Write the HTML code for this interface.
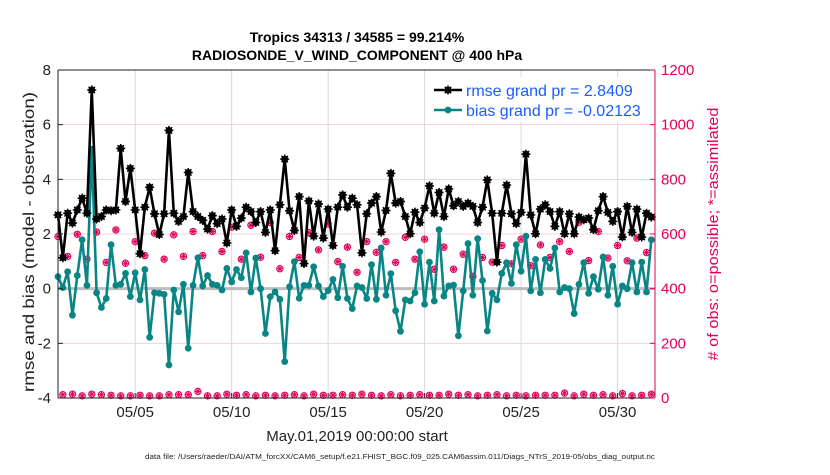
<!DOCTYPE html>
<html><head><meta charset="utf-8"><style>
body{margin:0;background:#fff;width:830px;height:470px;overflow:hidden}
svg{font-family:"Liberation Sans",sans-serif}
</style></head><body>
<svg id="chart" width="830" height="470"></svg>
<script>
const rmse=[2.70,1.13,2.76,2.40,2.88,3.31,2.76,7.27,2.55,2.64,2.88,2.85,2.88,5.13,3.19,4.40,2.88,1.28,2.98,3.71,2.74,1.98,2.74,5.79,2.76,2.46,2.64,4.25,2.82,2.64,2.50,2.18,
2.67,2.38,2.55,1.67,2.88,2.28,2.58,2.98,2.82,2.42,2.82,2.06,2.88,1.39,3.07,4.74,2.85,2.13,3.37,0.92,3.21,1.92,3.10,1.85,2.91,1.58,2.98,3.43,2.98,3.31,3.07,
1.31,2.74,3.13,3.37,2.07,2.86,4.22,3.13,3.19,2.64,2.01,2.80,2.42,2.95,3.76,2.76,3.52,2.64,3.65,3.03,3.19,3.01,3.13,3.01,2.42,2.98,3.98,2.76,0.97,2.76,3.79,
2.74,2.38,2.79,4.92,2.70,2.01,2.91,3.07,2.82,2.28,2.82,2.01,2.74,2.01,2.62,2.52,2.58,2.16,2.85,3.37,2.79,2.46,2.82,1.89,3.01,2.06,2.91,1.89,2.76,2.62];
const bias=[0.44,0.04,0.62,-0.97,0.48,1.79,0.12,5.10,-0.15,-0.69,-0.36,1.61,0.12,0.16,0.56,-0.29,0.58,-0.41,0.70,-1.78,-0.15,-0.17,-0.21,-2.79,-0.05,-0.85,0.16,-2.18,0.12,1.13,0.10,0.48,
0.16,0.12,-0.05,0.74,0.25,0.70,0.40,1.31,-0.12,1.12,0.00,-1.64,-0.29,-0.12,-0.39,-2.67,0.07,0.99,-0.35,0.12,0.12,0.80,0.10,-0.29,-0.07,0.34,-0.33,0.82,-0.36,-0.73,0.10,
0.04,-0.36,0.88,-0.39,1.49,-0.24,0.55,-0.81,-1.56,-0.41,-0.45,-0.15,1.35,-0.57,0.97,-0.45,2.16,-0.27,0.10,0.13,-1.72,-0.08,1.65,-0.24,1.83,0.30,-1.55,-0.17,-0.41,0.56,0.95,
0.19,1.61,0.64,1.92,-0.08,1.07,-0.15,1.07,0.74,1.49,-0.12,0.04,0.00,-0.91,0.16,0.95,-0.17,0.44,-0.02,1.16,-0.24,0.82,-0.57,0.10,0.00,0.95,-0.12,0.97,-0.12,1.79];
const obsHigh=[591,518,599,508,607,496,615,493,572,521,603,508,597,518,609,521,609,536,625,508,632,515,642,473,591,514,605,542,637,499,552,460,572,533,572,496,588,508,581,471,552,471,526,445,514,497,558,491,581,484,560,514,572,536,643,503,609,512,558,502,585,532];
const obsLow=[12,14,8,14,12,10,8,8,10,8,8,12,12,12,24,8,8,14,10,12,8,10,8,10,12,8,14,10,10,12,10,14,10,8,12,8,10,12,10,10,14,10,12,8,10,12,8,10,8,10,10,10,18,8,14,10,12,8,16,8,10,14];
const yTicks=[8,6,4,2,0,-2,-4];
const rTicks=[0,200,400,600,800,1000,1200];
const xTickDays=[4,9,14,19,24,29];
const xTickLabels=["05/05","05/10","05/15","05/20","05/25","05/30"];

const NS="http://www.w3.org/2000/svg";
const svg=document.getElementById('chart');
const L=58,R=655,T=70,B=398;
const X=d=>L+(d/30.94)*(R-L);
const Y=v=>T+(8-v)/12*(B-T);
const YR=c=>B-c/1200*(B-T);
function el(tag,a,parent){const e=document.createElementNS(NS,tag);for(const k in a)e.setAttribute(k,a[k]);(parent||svg).appendChild(e);return e;}
function txt(s,a){const e=el('text',a);e.textContent=s;return e;}
const PINK="#e0005a";

let e;
e=el('rect',{x:L,y:T,width:R-L,height:B-T,fill:'#fff'});

yTicks.forEach(v=>{e=el('line',{x1:L,x2:R,y1:Y(v),y2:Y(v),stroke:'#f5d0dd','stroke-width':1});
});
xTickDays.forEach(d=>{e=el('line',{x1:X(d),x2:X(d),y1:T,y2:B,stroke:'#d8d8d8','stroke-width':1});
});
e=el('line',{x1:L,x2:R,y1:Y(0),y2:Y(0),stroke:'#bdbdbd','stroke-width':3});


function star(g,x,y,r,col,w){for(let k=0;k<4;k++){const a=k*Math.PI/4;
el('line',{x1:x-r*Math.cos(a),y1:y-r*Math.sin(a),x2:x+r*Math.cos(a),y2:y+r*Math.sin(a),stroke:col,'stroke-width':w},g);}}
const gObs=el('g',{});
obsHigh.forEach((c,k)=>{const x=X(k*0.5),y=YR(c);
el('circle',{cx:x,cy:y,r:3.2,fill:'none',stroke:PINK,'stroke-width':1},gObs);star(gObs,x,y,3.2,PINK,1);});
obsLow.forEach((c,k)=>{const x=X(k*0.5+0.25),y=YR(c);
el('circle',{cx:x,cy:y,r:3.2,fill:'none',stroke:PINK,'stroke-width':1},gObs);star(gObs,x,y,3.2,PINK,1);});

function series(data,col,name,st){const g=el('g',{});
el('polyline',{points:data.map((v,i)=>X(i*0.25)+','+Y(v)).join(' '),fill:'none',stroke:col,'stroke-width':2.6,'stroke-linejoin':'round'},g);
data.forEach((v,i)=>{el('circle',{cx:X(i*0.25),cy:Y(v),r:3.4,fill:col},g);if(st)star(g,X(i*0.25),Y(v),4.5,col,1.5);});}
series(bias,'#0a8585','bias-series',false);
series(rmse,'#000','rmse-series',true);

e=el('line',{x1:L,x2:L,y1:T,y2:B,stroke:'#222','stroke-width':1});
e=el('line',{x1:L,x2:R,y1:T,y2:T,stroke:'#222','stroke-width':1});
e=el('line',{x1:L,x2:R,y1:B,y2:B,stroke:'#222','stroke-width':1});
e=el('line',{x1:R,x2:R,y1:T,y2:B,stroke:PINK,'stroke-width':1});
yTicks.forEach(v=>{el('line',{x1:L,x2:L+5,y1:Y(v),y2:Y(v),stroke:'#222'});
e=txt(String(v),{x:L-7,y:Y(v)+5,'text-anchor':'end','font-size':15,fill:'#222'});
});
rTicks.forEach(c=>{el('line',{x1:R-5,x2:R,y1:YR(c),y2:YR(c),stroke:PINK});
e=txt(String(c),{x:R+6,y:YR(c)+5,'font-size':15,fill:PINK});
});
xTickDays.forEach((d,k)=>{el('line',{x1:X(d),x2:X(d),y1:B-5,y2:B,stroke:'#222'});
e=txt(xTickLabels[k],{x:X(d),y:B+19,'text-anchor':'middle','font-size':15,fill:'#222'});
});

e=txt('Tropics 34313 / 34585 = 99.214%',{x:357,y:42,'text-anchor':'middle','font-size':14,'font-weight':'bold'});

e=txt('RADIOSONDE_V_WIND_COMPONENT @ 400 hPa',{x:357,y:60,'text-anchor':'middle','font-size':14,'font-weight':'bold'});

e=txt('rmse and bias (model - observation)',{x:0,y:0,'text-anchor':'middle','font-size':16,fill:'#222',textLength:300,lengthAdjust:'spacingAndGlyphs',transform:'translate(34,242) rotate(-90)'});

e=txt('# of obs: o=possible; *=assimilated',{x:0,y:0,'text-anchor':'middle','font-size':15,fill:PINK,textLength:253,lengthAdjust:'spacingAndGlyphs',transform:'translate(718,234) rotate(-90)'});

e=txt('May.01,2019 00:00:00 start',{x:357,y:441,'text-anchor':'middle','font-size':15,fill:'#222'});

e=txt('data file: /Users/raeder/DAI/ATM_forcXX/CAM6_setup/f.e21.FHIST_BGC.f09_025.CAM6assim.011/Diags_NTrS_2019-05/obs_diag_output.nc',{x:400,y:459,'text-anchor':'middle','font-size':7,fill:'#222',textLength:510,lengthAdjust:'spacingAndGlyphs'});


const lg=el('g',{});
el('rect',{x:430,y:77,width:220,height:45,fill:'#fff'},lg);
el('line',{x1:434,x2:462,y1:90,y2:90,stroke:'#000','stroke-width':2.6},lg);
el('circle',{cx:448,cy:90,r:3.4,fill:'#000'},lg);star(lg,448,90,4.5,'#000',1.5);
el('line',{x1:434,x2:462,y1:110,y2:110,stroke:'#0a8585','stroke-width':2.6},lg);
el('circle',{cx:448,cy:110,r:3.4,fill:'#0a8585'},lg);
e=txt('rmse grand pr = 2.8409',{x:466,y:96,'font-size':16,fill:'#1a5cff'});

e=txt('bias grand pr = -0.02123',{x:466,y:116,'font-size':16,fill:'#1a5cff'});

</script>
</body></html>
